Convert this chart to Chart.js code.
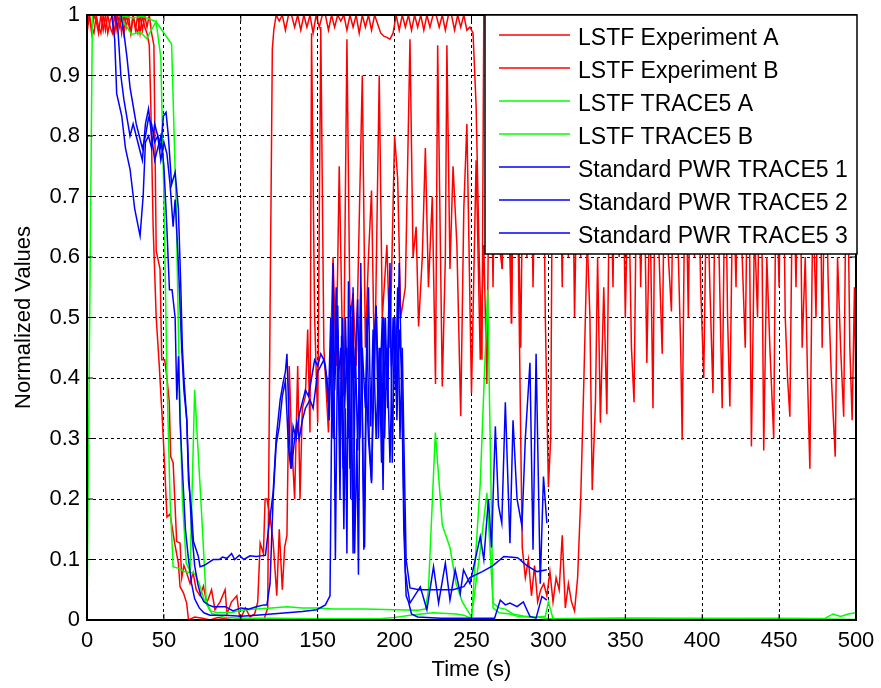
<!DOCTYPE html>
<html lang="en">
<head>
<meta charset="UTF-8" />
<title>Normalized Values</title>
<script src="https://cdn.jsdelivr.net/npm/chart.js@4.4.1/dist/chart.umd.min.js"></script>
<style>
  html, body { margin: 0; padding: 0; background: #fff; }
</style>
</head>
<body>
<canvas id="chart" width="881" height="688"></canvas>
<script>
// series names as in the legend
const seriesNames = [
  "LSTF Experiment A", "LSTF Experiment B", "LSTF TRACE5 A", "LSTF TRACE5 B",
  "Standard PWR TRACE5 1", "Standard PWR TRACE5 2", "Standard PWR TRACE5 3"
];
const seriesColors = ["#ff0000", "#ff0000", "#00ff00", "#00ff00", "#0000ff", "#0000ff", "#0000ff"];

// [time (s), normalized value]
const redA = [[0,0.98],[1.5,1],[3,0.97],[4.5,1],[6,0.99],[7.5,0.97],[9,1],[10.5,0.975],[12,1],[13.5,0.97],[15,0.99],[16.5,1],[18,0.97],[19.5,1],[21,0.98],[22.5,1],[24,0.97],[25.5,1],[27,0.985],[28.5,0.97],[30,1],[31.5,0.975],[33,1],[34.5,0.97],[36,1],[37.5,0.98],[39,0.97],[40.5,0.95],[41.5,0.85],[43,0.65],[45,0.5],[47,0.42],[49,0.33],[50,0.28],[52,0.17],[54,0.175],[57,0.127],[59.4,0.094],[60.5,0.055],[62.7,0.045],[64.8,0.028],[66,0],[70,0.005],[75,0.003],[80,0],[85,0.004],[90,0.002],[95,0],[100,0.003],[105,0],[110,0.002],[115,0],[117.5,0.02],[119,0.5],[120.5,0.944],[121.5,0.976],[123,1],[125,0.99],[127,1],[129,0.975],[131,1],[133,1],[135,0.98],[137,1],[139,0.975],[141,1],[143,0.98],[145,1],[147,0.97],[149,1],[151,0.98],[153,1],[155,1],[157,0.975],[159,1],[161,0.98],[163,1],[165,0.99],[167,1],[169,0.975],[171,1],[173,0.98],[175,1],[177,0.97],[179,1],[181,0.98],[183,1],[185,0.975],[187,1],[189,0.985],[191,0.97],[193,0.965],[195,0.963],[197,0.96],[199,0.97],[201,1],[203,0.975],[205,1],[207,0.98],[209,1],[211,0.975],[213,1],[215,0.98],[217,1],[219,0.975],[221,1],[223,0.98],[225,1],[227,1],[229,0.98],[231,1],[233,0.975],[235,1],[237,1],[239,0.975],[241,1],[243,0.98],[245,1],[247,0.975],[249,0.98],[251,0.97],[253,0.85],[255,0.6],[256.8,0.43],[258,1],[262,1],[266,1],[268,0.95],[270,0.58],[272,1],[274,0.95],[276,0.49],[278,0.95],[280,0.7],[282,0.3],[283,0.12],[285,0.07],[287,0.1],[289,0.04],[291,0.09],[293,0.03],[295,0.05],[297,0.06],[299,0.04],[301,0.08],[303,0.03],[305,0.07],[307,0.05],[309,0.14],[311,0.02],[313,0.06],[315,0.03],[317,0.015],[319,0.07],[321,0.2],[323,0.39],[325,0.6],[327,0.9],[330,0.97],[336,1],[342,0.96],[350,1],[360,0.97],[370,1],[380,0.95],[390,1],[400,0.97],[410,1],[420,0.96],[430,1],[440,0.97],[450,1],[460,0.96],[470,1],[480,0.97],[490,1],[500,0.98]];

const redB = [[0,0.97],[1.5,1],[3,0.98],[4.5,0.97],[6,1],[7.5,0.98],[9,0.97],[10.5,1],[12,0.975],[13.5,1],[15,0.98],[16.5,0.97],[18,1],[19.5,0.975],[21,1],[22.5,0.97],[24,1],[25.5,0.98],[27,1],[28.5,0.97],[30,1],[31.5,0.98],[33,0.97],[34.5,1],[36,0.975],[37.5,1],[39,0.98],[40.5,1],[42,0.97],[43.5,0.95],[45,0.61],[47.5,0.58],[48.6,0.43],[50.5,0.43],[52,0.4],[53.5,0.36],[54.4,0.27],[56,0.26],[58.3,0.13],[60.5,0.127],[61.6,0.07],[63,0.09],[64.8,0.078],[67,0.06],[69,0.078],[71,0.05],[73.5,0.04],[75.7,0.056],[77.9,0.028],[81,0.05],[83.2,0.017],[86.5,0.03],[89.8,0.05],[91,0.01],[94,0.03],[97.4,0.04],[99.5,0],[103,0.02],[106,0.005],[109,0.01],[111,0.03],[112.6,0.127],[114.7,0.11],[115.8,0.2],[117,0.2],[119,0.17],[121,0.13],[123.4,0.04],[125,0.15],[127,0.05],[128.5,0.12],[130,0.14],[131.5,0.42],[133,0.3],[135,0.2],[137,0.42],[138.5,0.2],[140,0.35],[142,0.37],[143.5,0.48],[145,0.31],[146,0.97],[148,0.5],[150,0.326],[152,0.98],[154,0.45],[157,0.31],[160,0.6],[162,0.42],[164,0.75],[166.7,0.37],[169,0.96],[171,0.5],[173,0.54],[175,0.42],[179,0.9],[181,0.45],[183,0.6],[185,0.71],[187,0.4],[190,0.9],[192,0.5],[195,0.62],[197,0.45],[200,0.8],[202,0.73],[204,0.5],[207,0.55],[210,0.96],[212,0.6],[214,0.65],[215.6,0.485],[218,0.6],[220,0.78],[222,0.55],[224.5,0.7],[226.6,0.39],[228,0.95],[231,0.386],[233,0.6],[234,0.95],[236,0.58],[238,0.75],[240.5,0.62],[243,0.337],[245,0.68],[247,0.82],[250,0.375],[253,0.76],[255.7,0.43],[258,0.62],[260,0.39],[262,0.9],[264,0.55],[266,0.95],[268,0.62],[270,0.58],[272,0.98],[274,0.7],[276,0.49],[278,1],[280,0.75],[282,0.45],[284,0.9],[286,0.6],[288,0.95],[290,0.55],[292,0.85],[294,0.62],[296,0.98],[298,0.5],[300,0.22],[301.5,0.3],[303,0.95],[305,0.65],[307,0.9],[309,0.55],[311,1],[313,0.6],[315,0.95],[317,0.5],[319,0.8],[321,0.6],[323,0.9],[325,0.65],[327,0.5],[328.5,0.215],[330.6,0.36],[332,0.6],[333.8,0.326],[336,0.55],[338,0.34],[340,0.8],[342,0.55],[344,0.95],[346,0.6],[348,0.85],[350,0.5],[352,0.75],[354,0.45],[355.7,0.36],[358,0.9],[360,0.55],[362,0.8],[364,0.425],[366,0.7],[368,0.35],[370,0.95],[372,0.6],[374,0.44],[376,0.85],[378,0.6],[380,0.51],[382,0.9],[384,0.65],[386,0.45],[387,0.298],[389,0.8],[391,0.5],[393,0.95],[395,0.6],[397,0.85],[399,0.55],[401,0.4],[403,0.75],[405,0.55],[407,0.375],[409,0.9],[411,0.6],[413,0.35],[415,0.8],[416.5,0.5],[418,0.353],[420,0.75],[422,0.55],[424,0.95],[426,0.6],[428,0.45],[430,0.85],[432,0.287],[434,0.65],[436,0.5],[438,0.9],[440,0.28],[442,0.6],[444,0.45],[446.5,0.3],[448,0.75],[450,0.55],[452,0.95],[454,0.5],[455.5,0.4],[457,0.336],[459,0.8],[461,0.55],[463,0.9],[465,0.45],[467,0.6],[468.5,0.4],[470,0.25],[472,0.7],[474,0.5],[476,0.95],[478,0.45],[480,0.8],[482,0.55],[484,0.4],[486.5,0.27],[488,0.6],[490,0.45],[492,0.336],[494,0.85],[496,0.45],[497.5,0.33],[499,0.55],[500,0.37]];

const greenA = [[0,0],[3.5,1],[21,1],[29,0.968],[34.5,0.972],[38.8,0.961],[44.9,0.989],[48,0.93],[50,0.7],[52,0.4],[54,0.2],[56,0.088],[60,0.085],[63,0.08],[66,0.079],[70,0.077],[73,0.06],[76,0.035],[80,0.015],[85,0.012],[95,0.013],[100,0.016],[110,0.018],[120,0.02],[130,0.022],[140,0.02],[150,0.02],[160,0.018],[180,0.018],[200,0.017],[215,0.016],[220,0.018],[222,0.05],[226.5,0.31],[231,0.157],[236,0.12],[240,0.06],[244,0.03],[250,0.005],[255.7,0.116],[260,0.21],[264,0.028],[268,0.02],[272,0.018],[277,0.01],[285,0.006],[295,0.004],[300,0.002],[350,0.003],[400,0.003],[450,0.002],[480,0.003],[485,0.01],[490,0.006],[495,0.01],[500,0.012]];

const greenB = [[0,1],[20,1],[30,0.995],[36,0.998],[44.9,0.989],[55,0.952],[58,0.68],[60,0.4],[62,0.2],[64.5,0.094],[67,0.08],[70,0.38],[74,0.2],[77.5,0.033],[81,0.011],[90,0.004],[100,0.003],[120,0.003],[150,0.002],[190,0.002],[200,0.004],[210,0.008],[225,0.012],[240,0.01],[245,0.008],[250,0.002],[255.7,0.226],[260.5,0.546],[264,0.02],[268,0.012],[275,0.01],[280,0.006],[290,0.004],[298,0.006],[300,0.03],[303,0.002],[350,0.003],[400,0.002],[450,0.003],[500,0.001]];

const blue1 = [[0,1],[16,1],[18,0.96],[19.3,0.87],[22.6,0.833],[25,0.78],[28,0.745],[31,0.68],[34.5,0.635],[36.5,0.7],[38,0.79],[40,0.8],[42,0.78],[44,0.82],[46,0.8],[48,0.78],[49.7,0.833],[51.4,0.839],[52.9,0.8],[55,0.72],[57.3,0.74],[59.4,0.68],[61,0.55],[62,0.45],[63,0.4],[64.9,0.33],[66,0.23],[68,0.18],[69.2,0.13],[72.4,0.105],[73.5,0.088],[76,0.09],[79,0.095],[82,0.1],[86,0.1],[88,0.104],[91,0.102],[94,0.11],[96,0.1],[99,0.107],[102,0.1],[106,0.106],[110,0.105],[113,0.106],[116,0.107],[118,0.15],[121,0.21],[123,0.3],[125.6,0.364],[127.7,0.395],[129,0.41],[130,0.44],[132,0.28],[133,0.25],[135,0.3],[136.4,0.326],[138,0.3],[140,0.33],[142,0.35],[145,0.364],[147,0.35],[150,0.41],[152,0.42],[154,0.43],[155,0.42],[157,0.36],[158.5,0.5],[160,0.3],[162,0.55],[163.5,0.4],[165,0.45],[166.5,0.25],[168,0.5],[170,0.3],[171.5,0.52],[173,0.11],[174.5,0.45],[176,0.28],[178,0.55],[180,0.116],[181.5,0.4],[183,0.3],[185,0.226],[187,0.45],[188,0.516],[190,0.35],[192,0.5],[193.5,0.3],[195,0.45],[197,0.26],[199,0.5],[200.5,0.38],[202,0.55],[203.5,0.3],[205,0.45],[206,0.3],[207.5,0.1],[210,0.053],[216,0.05],[222,0.05],[230,0.05],[238,0.05],[245,0.055],[249,0.07],[257,0.08],[264,0.09],[271,0.105],[280,0.103],[286,0.09],[292.6,0.08],[299,0.083]];

const blue2 = [[0,1],[18,1],[20,0.98],[22,0.9],[24,0.86],[26,0.83],[28,0.8],[30,0.82],[33,0.79],[36,0.76],[38,0.82],[40,0.845],[42,0.8],[44,0.76],[46,0.78],[48,0.8],[50,0.75],[51.9,0.65],[53.6,0.546],[55.3,0.546],[57.3,0.5],[58.4,0.364],[59.5,0.436],[60.5,0.33],[62,0.25],[64,0.15],[66,0.1],[68,0.06],[70,0.035],[73,0.02],[76,0.012],[80,0.008],[90,0.008],[100,0.006],[110,0.008],[120,0.01],[130,0.012],[140,0.014],[149.4,0.017],[155,0.025],[158,0.04],[160,0.59],[161.5,0.1],[163,0.48],[164.5,0.2],[165.5,0.47],[167,0.15],[168,0.35],[169,0.11],[170,0.56],[171.5,0.2],[173,0.55],[174,0.11],[175.5,0.3],[176.5,0.075],[178,0.59],[179.5,0.25],[180.5,0.12],[182,0.5],[183.5,0.3],[185,0.23],[186.5,0.45],[188,0.52],[189.5,0.3],[191,0.45],[192.5,0.215],[194,0.5],[195.5,0.35],[197,0.59],[198.5,0.26],[200,0.5],[201.5,0.35],[203,0.59],[204.5,0.4],[206,0.2],[207,0.08],[208.5,0.05],[210,0.028],[216.7,0.055],[221,0.017],[225.3,0.088],[228.6,0.028],[233,0.094],[236,0.033],[239.4,0.083],[242.7,0.044],[244.8,0.083],[249,0.06],[255.7,0.138],[258,0.1],[261,0.2],[263,0.12],[265.5,0.32],[267.5,0.19],[269.7,0.16],[272,0.36],[275,0.127],[277,0.33],[279.6,0.2],[282.8,0.155],[285,0.3],[288,0.425],[290,0.116],[292,0.44],[294.7,0.06],[296.8,0.237],[299,0.16]];

const blue3 = [[0,1],[22,1],[24,0.97],[26,0.93],[28,0.88],[30,0.85],[32,0.82],[34,0.8],[36,0.78],[38,0.8],[40,0.83],[42,0.82],[44,0.79],[46,0.8],[48,0.76],[50,0.79],[52,0.77],[54,0.72],[56,0.65],[57.3,0.695],[59.5,0.585],[61.6,0.447],[63,0.38],[64.9,0.33],[66,0.25],[68,0.15],[70,0.09],[72,0.06],[74,0.04],[76,0.03],[79,0.025],[82,0.022],[90,0.022],[95,0.015],[100,0.02],[105,0.018],[110,0.022],[115,0.025],[117,0.025],[119,0.06],[121,0.2],[123,0.29],[125,0.32],[127,0.37],[129,0.395],[131,0.286],[132.5,0.25],[134,0.32],[136,0.3],[138,0.34],[140,0.36],[142,0.38],[144,0.37],[146,0.4],[148,0.43],[150,0.42],[152,0.44],[154,0.43],[156,0.4],[157.5,0.33],[159,0.47],[161,0.38],[163,0.52],[164.5,0.28],[166,0.5],[167.5,0.35],[169,0.45],[171,0.25],[172.5,0.5],[174,0.4],[176,0.53],[177.5,0.3],[179,0.45],[181,0.35],[183,0.55],[184.5,0.32],[186,0.48],[188,0.3],[190,0.45],[191.5,0.26],[193,0.5],[195,0.38],[196.5,0.55],[198,0.42],[200,0.5],[201.5,0.33],[203,0.48],[204.5,0.42],[206,0.15],[207.5,0.04],[209,0.03],[211,0.01],[215,0.005],[230,0.003],[255,0.003],[265,0.003],[268.7,0.033],[272,0.025],[275,0.028],[279.6,0.022],[283.7,0.03],[286,0.017],[288,0.006],[292,0.003],[295.8,0.039],[299,0.033]];

const allSeries = [redA, redB, greenA, greenB, blue1, blue2, blue3];

const FONT = '"Liberation Sans", Arial, sans-serif';
Chart.defaults.font.family = FONT;
Chart.defaults.font.size = 22;
Chart.defaults.color = "#000";

// box round the plot area plus inward tick marks, like matlab
const frame = {
  id: "frame",
  afterDatasetsDraw(chart) {
    const { ctx, chartArea: a, scales } = chart;
    ctx.save();
    ctx.strokeStyle = "#000";
    ctx.lineWidth = 1;
    ctx.setLineDash([]);
    ctx.beginPath();
    scales.x.ticks.forEach(t => {
      const px = scales.x.getPixelForValue(t.value);
      ctx.moveTo(px, a.bottom); ctx.lineTo(px, a.bottom - 6);
      ctx.moveTo(px, a.top); ctx.lineTo(px, a.top + 6);
    });
    scales.y.ticks.forEach(t => {
      const py = scales.y.getPixelForValue(t.value);
      ctx.moveTo(a.left, py); ctx.lineTo(a.left + 6, py);
      ctx.moveTo(a.right, py); ctx.lineTo(a.right - 6, py);
    });
    ctx.stroke();
    ctx.lineWidth = 2;
    ctx.strokeRect(a.left, a.top, a.right - a.left, a.bottom - a.top);
    ctx.restore();
  }
};

// legend box inside the top right corner
const boxLegend = {
  id: "boxLegend",
  afterDraw(chart) {
    const { ctx, chartArea: a } = chart;
    const left = a.right - 371, top = a.top, w = 372, h = 239;
    ctx.save();
    ctx.fillStyle = "#fff";
    ctx.fillRect(left, top, w, h);
    ctx.strokeStyle = "#000";
    ctx.lineWidth = 1.5;
    ctx.strokeRect(left, top, w, h);
    ctx.font = "23px " + FONT;
    ctx.textBaseline = "alphabetic";
    chart.data.datasets.forEach((ds, i) => {
      const ly = top + 20 + i * 33;
      ctx.strokeStyle = ds.borderColor;
      ctx.lineWidth = 1.5;
      ctx.beginPath();
      ctx.moveTo(left + 14, ly);
      ctx.lineTo(left + 85, ly);
      ctx.stroke();
      ctx.fillStyle = "#000";
      ctx.fillText(ds.label, left + 93, ly + 10);
    });
    ctx.restore();
  }
};

const datasets = allSeries.map((s, i) => ({
  label: seriesNames[i],
  data: s.map(p => ({ x: p[0], y: p[1] })),
  borderColor: seriesColors[i],
  borderWidth: 1.5,
  pointRadius: 0,
  fill: false,
  tension: 0,
  order: 7 - i
}));

new Chart(document.getElementById("chart"), {
  type: "line",
  data: { datasets },
  plugins: [frame, boxLegend],
  options: {
    responsive: false,
    animation: false,
    events: [],
    layout: { padding: { top: 15, right: 25, left: 0, bottom: 0 } },
    plugins: { legend: { display: false }, tooltip: { enabled: false } },
    scales: {
      x: {
        type: "linear",
        min: 0,
        max: 500,
        afterFit(s) { s.height = 68; s.paddingLeft = 0; s.paddingRight = 0; },
        ticks: { stepSize: 50, padding: 8, maxRotation: 0, autoSkip: false },
        grid: { color: "#000", lineWidth: 1, drawTicks: false },
        border: { display: false, dash: [3, 3] },
        title: { display: true, text: "Time (s)", padding: { top: 0, bottom: 5 } }
      },
      y: {
        min: 0,
        max: 1,
        afterFit(s) { s.width = 87; s.paddingTop = 0; s.paddingBottom = 0; },
        ticks: {
          stepSize: 0.1,
          padding: 7,
          callback: v => String(Number(v.toFixed(1)))
        },
        grid: { color: "#000", lineWidth: 1, drawTicks: false },
        border: { display: false, dash: [3, 3] },
        title: { display: true, text: "Normalized Values", padding: { top: 11, bottom: 0 } }
      }
    }
  }
});
</script>
</body>
</html>
